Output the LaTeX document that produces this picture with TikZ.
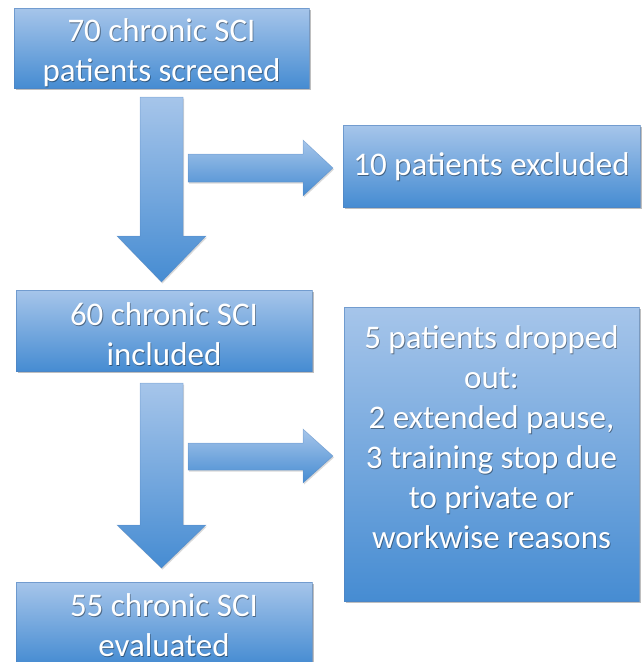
\documentclass[tikz,border=0pt]{standalone}
\usepackage{fontspec}
\setmainfont{Carlito}
\usetikzlibrary{shadows}
\definecolor{topblue}{RGB}{166,197,234}
\definecolor{botblue}{RGB}{70,140,210}
\definecolor{edgeblue}{RGB}{80,130,190}
\tikzset{
  flowbox/.style={draw=edgeblue, draw opacity=0.6, line width=0.6pt,
    top color=topblue, bottom color=botblue,
    drop shadow={shadow xshift=1.5pt, shadow yshift=-2pt, fill=black, opacity=0.25}},
  blockarrow/.style={draw=edgeblue, draw opacity=0.5, line width=0.5pt,
    top color=topblue, bottom color=botblue,
    drop shadow={shadow xshift=1pt, shadow yshift=-1.5pt, fill=black, opacity=0.15}},
  boxtext/.style={text=white, font=\fontsize{33}{40}\selectfont, align=center, inner sep=0pt},
  shadowtext/.style={text=black, text opacity=0.4, font=\fontsize{33}{40}\selectfont, align=center, inner sep=0pt}
}
\newcommand{\boxlabel}[3]{%
  \node[shadowtext, #1] at ([xshift=0.8pt,yshift=-1pt]#2) {#3};
  \node[boxtext, #1] at (#2) {#3};}
\begin{document}
\begin{tikzpicture}[x=1pt,y=-1pt]
\useasboundingbox (0,0) rectangle (644,662);
\clip (0,0) rectangle (644,662);
% boxes
\path[flowbox] (14,8) rectangle (309,88);
\coordinate (t1) at (161.5,53);
\path[flowbox] (343,125) rectangle (640,207);
\coordinate (t2) at (491.5,167);
\path[flowbox] (16,290) rectangle (312,371);
\coordinate (t3) at (164,334);
\path[flowbox] (344,307) rectangle (639,601);
\coordinate (t4) at (491.5,325);
\path[flowbox] (16,582) rectangle (312,664);
\coordinate (t5) at (164,625);
% block arrows
\path[blockarrow] (140,97) -- (183,97) -- (183,236) -- (206,236) -- (161.5,282) -- (117,236) -- (140,236) -- cycle;
\path[blockarrow] (188,154) -- (303,154) -- (303,140) -- (333,168) -- (303,196) -- (303,182) -- (188,182) -- cycle;
\path[blockarrow] (140,383) -- (183,383) -- (183,525) -- (206,525) -- (161.5,568) -- (117,525) -- (140,525) -- cycle;
\path[blockarrow] (188,443) -- (303,443) -- (303,429) -- (333,456) -- (303,483) -- (303,470) -- (188,470) -- cycle;
% labels
\boxlabel{}{t1}{70 chronic SCI\\patients screened}
\boxlabel{}{t2}{10 patients excluded}
\boxlabel{}{t3}{60 chronic SCI\\included}
\boxlabel{anchor=north}{t4}{5 patients dropped\\out:\\2 extended pause,\\3 training stop due\\to private or\\workwise reasons}
\boxlabel{}{t5}{55 chronic SCI\\evaluated}
\end{tikzpicture}
\end{document}
